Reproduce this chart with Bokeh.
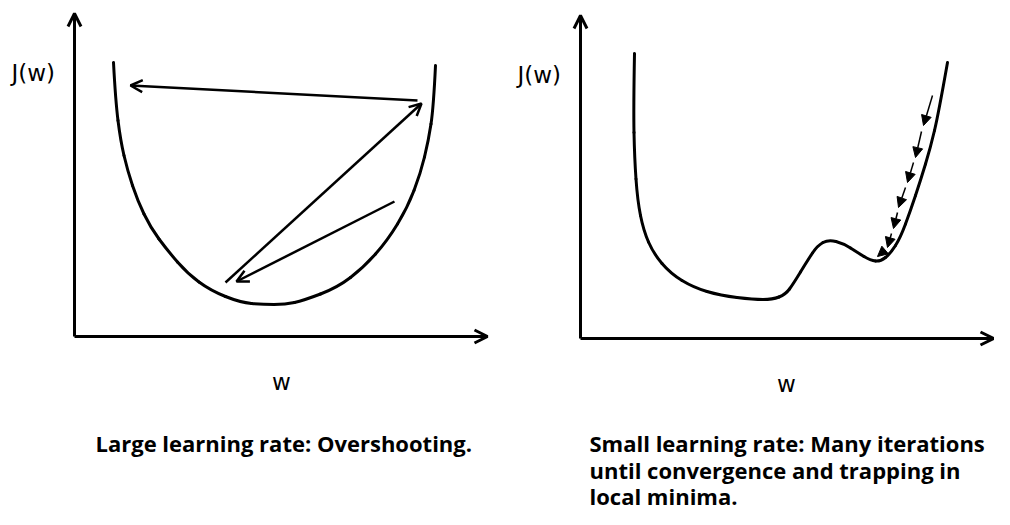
from bokeh.plotting import figure
from bokeh.models import Range1d, Arrow, OpenHead, NormalHead
from bokeh.embed import file_html
from bokeh.resources import INLINE
from bokeh.core.properties import value

# ---- diagram data (reference pixel space: x right, y down) ----
# Left panel: convex cost curve J(w)
left_curve_x = [113, 115, 120, 127, 137, 150, 167, 187, 210, 240, 262, 285, 303, 337, 363, 387, 407, 420, 428, 433, 435]
left_curve_y = [62, 100, 140, 170, 200, 227, 250, 273, 290, 302, 304, 304, 300, 287, 267, 240, 207, 173, 140, 107, 65]

# Left panel: overshooting steps (start -> end)
left_step_x0 = [417, 225, 394]
left_step_y0 = [100, 282, 201]
left_step_x1 = [130, 421, 236]
left_step_y1 = [85, 103, 281]

# Right panel: non-convex cost curve J(w)
right_curve_x = [634, 633, 634, 637, 643, 653, 670, 693, 720, 753, 772, 785, 793, 807, 817, 828, 843, 857, 870, 880, 890, 900, 910, 920, 930, 938, 947]
right_curve_y = [53, 107, 157, 200, 230, 253, 273, 287, 295, 299, 299, 294, 283, 260, 245, 239, 243, 252, 260, 261, 253, 237, 210, 180, 147, 113, 62]

# Right panel: small steps (start -> end)
right_step_x0 = [932, 921, 913, 905, 897, 891, 884]
right_step_y0 = [95, 131, 162, 187, 212, 233, 250]
right_step_x1 = [923, 915, 907, 898, 893, 887, 877]
right_step_y1 = [125, 157, 182, 207, 228, 247, 256]

# Axes (origin, x-end, y-end) per panel
axis_origin_x = [74, 580]
axis_origin_y = [336, 338]
axis_xend = [487, 993]
axis_yend = [13, 15]

# Labels
ylabel_text = ["J(w)", "J(w)"]
ylabel_x = [11, 517]
ylabel_y = [72, 74]
xlabel_text = ["w", "w"]
xlabel_x = [281, 786]
xlabel_y = [381, 383]

caption_text = ["Large learning rate: Overshooting.",
                "Small learning rate: Many iterations",
                "until convergence and trapping in",
                "local minima."]
caption_x = [95, 589, 589, 589]
caption_y = [442, 442, 469, 495]

W, H = 994, 509
p = figure(width=W, height=H, output_backend="svg", toolbar_location=None,
           x_range=Range1d(0, W), y_range=Range1d(H, 0),
           min_border=0, min_border_left=0, min_border_right=0,
           min_border_top=0, min_border_bottom=0)
p.axis.visible = False
p.grid.visible = False
p.outline_line_color = None
p.background_fill_color = "white"
p.border_fill_color = "white"


def smooth_curve(xs, ys, width):
    # quadratic Bezier segments between midpoints, using the read points as controls
    n = len(xs)
    x0, y0, x1, y1, cx, cy = [], [], [], [], [], []
    for i in range(1, n - 1):
        sx = xs[0] if i == 1 else (xs[i - 1] + xs[i]) / 2
        sy = ys[0] if i == 1 else (ys[i - 1] + ys[i]) / 2
        ex = xs[-1] if i == n - 2 else (xs[i] + xs[i + 1]) / 2
        ey = ys[-1] if i == n - 2 else (ys[i] + ys[i + 1]) / 2
        x0.append(sx); y0.append(sy); x1.append(ex); y1.append(ey)
        cx.append(xs[i]); cy.append(ys[i])
    p.quadratic(x0=x0, y0=y0, x1=x1, y1=y1, cx=cx, cy=cy,
                line_width=width, line_color="black", line_cap="round")


# axes as arrows
for ox, oy, xe, ye in zip(axis_origin_x, axis_origin_y, axis_xend, axis_yend):
    p.add_layout(Arrow(x_start=ox, y_start=oy, x_end=xe, y_end=oy, line_width=3, line_color="black",
                       end=OpenHead(size=13, line_width=3, line_color="black")))
    p.add_layout(Arrow(x_start=ox, y_start=oy, x_end=ox, y_end=ye, line_width=3, line_color="black",
                       end=OpenHead(size=13, line_width=3, line_color="black")))

# curves
smooth_curve(left_curve_x, left_curve_y, 3)
smooth_curve(right_curve_x, right_curve_y, 3)

# overshooting steps
for x0, y0, x1, y1 in zip(left_step_x0, left_step_y0, left_step_x1, left_step_y1):
    p.add_layout(Arrow(x_start=x0, y_start=y0, x_end=x1, y_end=y1, line_width=2.5, line_color="black",
                       end=OpenHead(size=12, line_width=2.5, line_color="black")))

# small steps
for x0, y0, x1, y1 in zip(right_step_x0, right_step_y0, right_step_x1, right_step_y1):
    p.add_layout(Arrow(x_start=x0, y_start=y0, x_end=x1, y_end=y1, line_width=1.5, line_color="black",
                       end=NormalHead(size=10, line_width=1, line_color="black", fill_color="black")))

# labels
p.text(x=ylabel_x, y=ylabel_y, text=ylabel_text, text_font=value("DejaVu Sans"),
       text_font_size="23px", text_baseline="middle", text_align="left", text_color="black")
p.text(x=xlabel_x, y=xlabel_y, text=xlabel_text, text_font=value("DejaVu Sans"),
       text_font_size="23px", text_baseline="middle", text_align="center", text_color="black")
p.text(x=caption_x, y=caption_y, text=caption_text, text_font=value("Open Sans"),
       text_font_size="22px", text_font_style="bold", text_baseline="alphabetic", text_align="left",
       text_color="black")

open("out.html", "w").write(file_html(p, INLINE))
